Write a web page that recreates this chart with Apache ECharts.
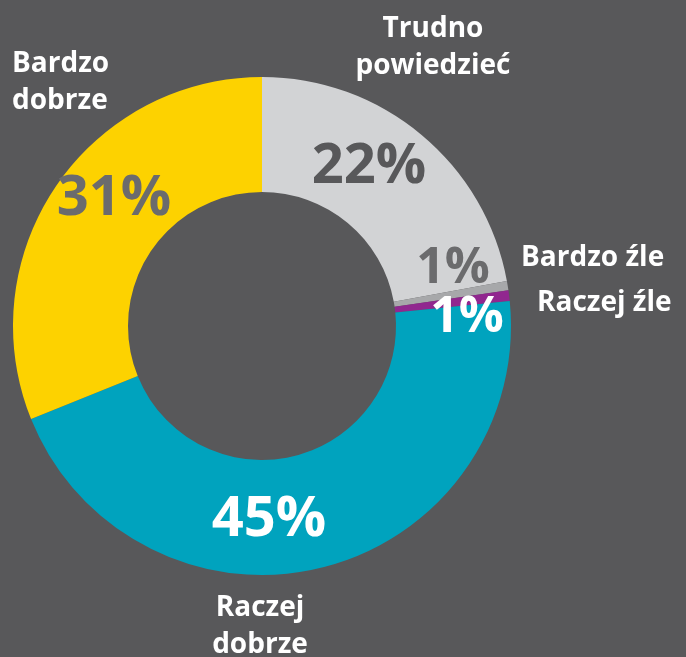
<!DOCTYPE html>
<html>
<head>
<meta charset="utf-8">
<script src="https://cdn.jsdelivr.net/npm/echarts@6/dist/echarts.min.js"></script>
<style>
  html, body { margin: 0; padding: 0; background: #58585a; }
  #chart { width: 686px; height: 657px; }
</style>
</head>
<body>
<div id="chart"></div>
<script>
// data, clockwise from 12 o'clock
const categories = ['Trudno\npowiedzieć', 'Bardzo źle', 'Raczej źle', 'Raczej\ndobrze', 'Bardzo\ndobrze'];
const values = [22.1, 0.6, 0.7, 45.5, 31.1];
const percentLabels = ['22%', '1%', '1%', '45%', '31%'];

// styling
const sliceColors = ['#d2d3d5', '#a7a8aa', '#91278f', '#00a3be', '#fdd200'];
const pctColors = ['#58585a', '#6b6b6d', '#ffffff', '#ffffff', '#6b6b6d'];
const pctSizes = [56, 50, 50, 56, 56];
// label anchors (px)
const pctPos = [[369, 167], [453, 269], [467, 318], [269, 520], [114, 199]];
const namePos = [
  { x: 433, y: 48, align: 'center' },
  { x: 521, y: 258, align: 'left' },
  { x: 537, y: 303, align: 'left' },
  { x: 260, y: 627, align: 'center' },
  { x: 12, y: 83, align: 'left' }
];

const font = '"Open Sans", "Noto Sans", sans-serif';
const chart = echarts.init(document.getElementById('chart'));

const option = {
  backgroundColor: '#58585a',
  animation: false,
  series: [
    {
      // ring + percentages
      type: 'pie',
      center: [262, 326],
      radius: [134, 249],
      startAngle: 90,
      clockwise: true,
      silent: true,
      data: values.map((v, i) => ({
        value: v,
        name: categories[i],
        itemStyle: { color: sliceColors[i] },
        label: { color: pctColors[i], fontSize: pctSizes[i] }
      })),
      label: {
        show: true,
        position: 'inside',
        fontFamily: font,
        fontWeight: 'bold',
        overflow: 'none',
        formatter: p => percentLabels[p.dataIndex]
      },
      labelLine: { show: false },
      labelLayout: p => ({
        x: pctPos[p.dataIndex][0],
        y: pctPos[p.dataIndex][1],
        align: 'center',
        verticalAlign: 'middle'
      })
    },
    {
      // category names, invisible ring
      type: 'pie',
      center: [262, 326],
      radius: [134, 249],
      startAngle: 90,
      clockwise: true,
      silent: true,
      itemStyle: { color: 'transparent' },
      data: values.map((v, i) => ({ value: v, name: categories[i] })),
      label: {
        show: true,
        position: 'outside',
        color: '#ffffff',
        fontFamily: font,
        fontWeight: 'bold',
        fontSize: 28,
        lineHeight: 37,
        overflow: 'none',
        width: 220,
        formatter: '{b}'
      },
      labelLine: { show: false },
      labelLayout: p => ({
        x: namePos[p.dataIndex].x,
        y: namePos[p.dataIndex].y,
        align: namePos[p.dataIndex].align,
        verticalAlign: 'middle'
      })
    }
  ]
};

chart.setOption(option);
</script>
</body>
</html>
